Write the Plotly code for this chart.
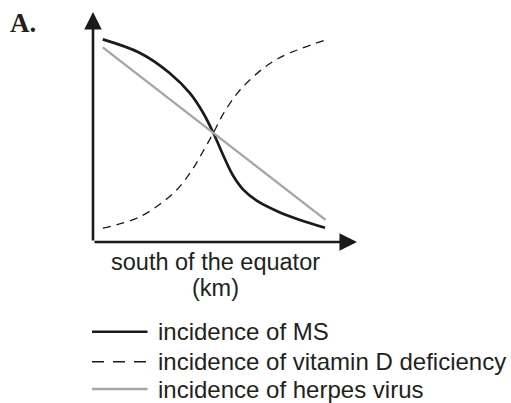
import plotly.graph_objects as go

# ---- data (arbitrary units, axis has no ticks) ----
ms_x = [3.7, 17.8, 29.0, 36.7, 41.8, 45.6, 49.4, 53.1, 56.9, 62.0, 70.0, 78.4, 87.9]
ms_y = [88.1, 82.2, 73.5, 64.7, 56.0, 47.4, 37.5, 28.8, 22.8, 18.0, 13.3, 9.6, 6.2]

vitd_x = [3.7, 17.8, 30.4, 36.7, 41.5, 45.6, 49.5, 55.7, 64.5, 72.1, 87.9]
vitd_y = [6.0, 11.0, 21.2, 29.9, 39.0, 47.5, 56.0, 66.1, 75.5, 80.9, 87.8]

herpes_x = [3.7, 88.1]
herpes_y = [84.6, 9.6]

series_names = ["incidence of MS", "incidence of vitamin D deficiency", "incidence of herpes virus"]
x_title_lines = ["south of the equator", "(km)"]
panel_label = "A."

# ---- layout geometry (page pixels of the reference) ----
W, H = 511, 403
L, R, T, B = 93, 357, 12, 242  # plot area in pixels

def px(x):
    return (x - L) / (R - L)

def py(y):
    return (B - y) / (B - T)

TEXT = "#231f20"
BLACK = "#1a1a1a"
GREY = "#a6a6a6"
FONT = "Liberation Sans, Arial, sans-serif"

fig = go.Figure()
fig.add_trace(go.Scatter(x=ms_x, y=ms_y, mode="lines", name=series_names[0],
                         line=dict(color=BLACK, width=2.7, shape="spline", smoothing=1.0)))
fig.add_trace(go.Scatter(x=vitd_x, y=vitd_y, mode="lines", name=series_names[1],
                         line=dict(color=BLACK, width=1.3, dash="8px,6px", shape="spline", smoothing=1.0)))
fig.add_trace(go.Scatter(x=herpes_x, y=herpes_y, mode="lines", name=series_names[2],
                         line=dict(color=GREY, width=2.4)))

annotations = []
# axis arrows
for hx, hy in [(100, 0), (0, 100)]:
    annotations.append(dict(x=hx, y=hy, ax=0, ay=0, xref="x", yref="y", axref="x", ayref="y",
                            text="", showarrow=True, arrowhead=2, arrowsize=1.35, arrowwidth=2.6,
                            arrowcolor=BLACK))
# panel label
annotations.append(dict(x=px(8), y=py(23), xref="paper", yref="paper", xanchor="left", yanchor="middle",
                        text="<b>" + panel_label + "</b>", showarrow=False,
                        font=dict(family="Liberation Serif, Times New Roman, serif", size=27, color=TEXT)))
# axis title (two lines)
for line, yy in zip(x_title_lines, [262, 288]):
    annotations.append(dict(x=px(215), y=py(yy), xref="paper", yref="paper", xanchor="center",
                            yanchor="middle", text=line, showarrow=False,
                            font=dict(family=FONT, size=23.5, color=TEXT)))

# manual legend
shapes = []
leg_y = [331.7, 361.7, 389]
leg_styles = [dict(color=BLACK, width=2.4), dict(color=BLACK, width=1.6, dash="12px,9px"),
              dict(color=GREY, width=2.4)]
for name, yy, st in zip(series_names, leg_y, leg_styles):
    shapes.append(dict(type="line", xref="paper", yref="paper", x0=px(92), x1=px(147.5),
                       y0=py(yy), y1=py(yy), line=st))
    annotations.append(dict(x=px(156), y=py(yy), xref="paper", yref="paper", xanchor="left",
                            yanchor="middle", text=name, showarrow=False,
                            font=dict(family=FONT, size=24, color=TEXT)))

fig.update_layout(
    width=W, height=H,
    margin=dict(l=L, r=W - R, t=T, b=H - B, pad=0),
    paper_bgcolor="white", plot_bgcolor="white",
    showlegend=False,
    xaxis=dict(range=[0, 100], visible=False, fixedrange=True),
    yaxis=dict(range=[0, 100], visible=False, fixedrange=True),
    annotations=annotations, shapes=shapes,
)

fig.write_html("out.html", config={"displayModeBar": False, "staticPlot": True},
               post_script="document.body.style.margin='0';document.body.style.overflow='hidden';")
